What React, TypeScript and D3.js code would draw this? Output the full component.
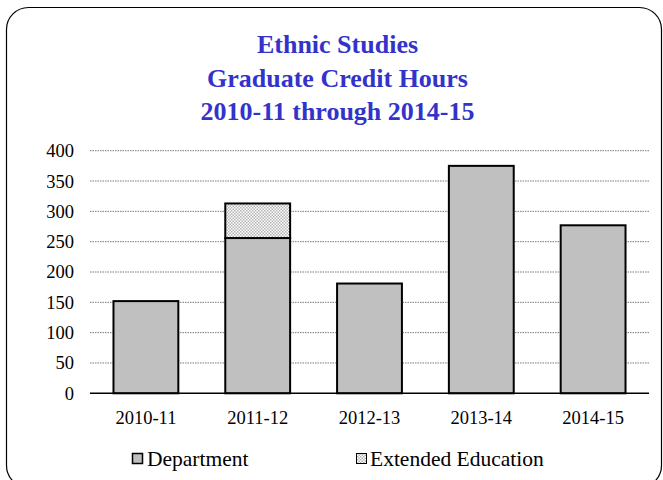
import React from "react";
import * as d3 from "d3";

const categories = ["2010-11", "2011-12", "2012-13", "2013-14", "2014-15"];
const department = [152, 256, 181, 375, 277];
const extended = [0, 57, 0, 0, 0];
const yTicks = [0, 50, 100, 150, 200, 250, 300, 350, 400];
const titleLines = ["Ethnic Studies", "Graduate Credit Hours", "2010-11 through 2014-15"];
const seriesNames = ["Department", "Extended Education"];

const W = 663;
const H = 480;
const left = 90;
const right = 649;
const top = 150.7;
const bottom = 393.3;

export default function App() {
  const x = d3.scaleBand<string>().domain(categories).range([left, right]).paddingInner(0.42).paddingOuter(0.21);
  const y = d3.scaleLinear().domain([0, 400]).range([bottom, top]);
  const serif = "'Liberation Serif', 'Times New Roman', serif";
  return (
    <svg width={W} height={H} style={{ position: "absolute", left: 0, top: 0 }} fontFamily={serif}>
      <defs>
        <pattern id="checker" width={3} height={3} patternUnits="userSpaceOnUse">
          <rect width={3} height={3} fill="#ffffff" />
          <rect width={1.5} height={1.5} fill="#b4b4b4" />
          <rect x={1.5} y={1.5} width={1.5} height={1.5} fill="#b4b4b4" />
        </pattern>
      </defs>
      <rect x={0} y={0} width={W} height={H} fill="#fff" />
      <rect x={6.5} y={7.5} width={655} height={480} rx={22} ry={22} fill="#fff" stroke="#000" strokeWidth={1.2} />
      {titleLines.map((t, i) => (
        <text key={t} x={W / 2 + 6} y={53 + i * 33.5} textAnchor="middle" fontWeight="bold" fontSize={26} fill="#3333CC">
          {t}
        </text>
      ))}
      {yTicks.map((v) => (
        <g key={v}>
          {v > 0 ? (
            <line x1={left} x2={right} y1={y(v)} y2={y(v)} stroke="#7a7a7a" strokeWidth={1} strokeDasharray="1.5 1" />
          ) : null}
          <text x={74} y={y(v)} dy="0.35em" textAnchor="end" fontSize={18.5} fill="#000">
            {v}
          </text>
        </g>
      ))}
      {categories.map((c, i) => {
        const x0 = x(c)!;
        const w = x.bandwidth();
        return (
          <g key={c}>
            <rect x={x0} y={y(department[i])} width={w} height={y(0) - y(department[i])} fill="#C0C0C0" stroke="#000" strokeWidth={2} />
            {extended[i] > 0 ? (
              <rect
                x={x0}
                y={y(department[i] + extended[i])}
                width={w}
                height={y(department[i]) - y(department[i] + extended[i])}
                fill="url(#checker)"
                stroke="#000"
                strokeWidth={2}
              />
            ) : null}
            <text x={x0 + w / 2} y={418} dy="0.35em" textAnchor="middle" fontSize={18.5} fill="#000">
              {c}
            </text>
          </g>
        );
      })}
      <line x1={left} x2={right} y1={y(0)} y2={y(0)} stroke="#000" strokeWidth={1.5} />
      <g>
        <rect x={132.5} y={453.5} width={10} height={10} fill="#C0C0C0" stroke="#000" strokeWidth={1.5} />
        <text x={147} y={466} fontSize={21.5} fill="#000">{seriesNames[0]}</text>
        <rect x={356.5} y={453.5} width={10} height={10} fill="url(#checker)" stroke="#000" strokeWidth={1} />
        <text x={370} y={466} fontSize={21.5} fill="#000">{seriesNames[1]}</text>
      </g>
    </svg>
  );
}
